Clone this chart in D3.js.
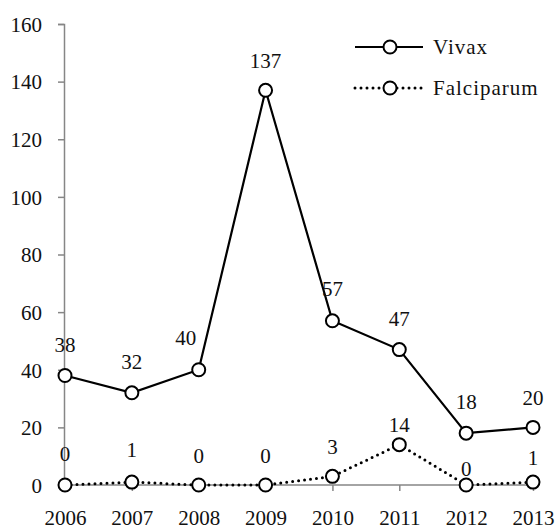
<!DOCTYPE html>
<html>
<head>
<meta charset="utf-8">
<script src="https://cdn.jsdelivr.net/npm/d3@7"></script>
<style>
  html, body { margin: 0; padding: 0; background: #fff; }
</style>
</head>
<body>
<svg id="chart" width="555" height="529"></svg>
<script>
const years = ["2006", "2007", "2008", "2009", "2010", "2011", "2012", "2013"];
const vivax = [38, 32, 40, 137, 57, 47, 18, 20];
const falciparum = [0, 1, 0, 0, 3, 14, 0, 1];
const yTicks = [0, 20, 40, 60, 80, 100, 120, 140, 160];
const seriesNames = ["Vivax", "Falciparum"];

const FONT = "'Liberation Serif', 'DejaVu Serif', serif";
const svg = d3.select("#chart");
const x = d3.scalePoint().domain(years).range([65, 533]);
const y = d3.scaleLinear().domain([0, 160]).range([485, 24]);
const axisColor = "#868686";
const fontSize = 21;

// Y axis
const yAxis = svg.append("g").attr("transform", "translate(64,0)")
  .call(d3.axisLeft(y).tickValues(yTicks).tickSize(6).tickPadding(16));
yAxis.attr("font-family", null).attr("font-size", null);
yAxis.select(".domain").attr("stroke", axisColor).attr("stroke-width", 1.5);
yAxis.selectAll(".tick line").attr("stroke", axisColor).attr("stroke-width", 1.5);
yAxis.selectAll(".tick text").attr("font-size", fontSize).style("font-family", FONT).attr("fill", "#111")
  .attr("dy", "0.35em");

// X axis
const xAxis = svg.append("g").attr("transform", "translate(0,485)")
  .call(d3.axisBottom(x).tickSize(6).tickSizeOuter(0).tickPadding(0));
xAxis.attr("font-family", null).attr("font-size", null);
xAxis.select(".domain").attr("stroke", axisColor).attr("stroke-width", 1.5).attr("d", "M64,0H534");
xAxis.selectAll(".tick line").attr("stroke", axisColor).attr("stroke-width", 1.5);
xAxis.selectAll(".tick text").attr("font-size", fontSize).style("font-family", FONT).attr("fill", "#111")
  .attr("y", 40).attr("dy", null);

const line = d3.line().x((d, i) => x(years[i])).y(d => y(d));

// Falciparum (dotted)
svg.append("path").datum(falciparum)
  .attr("d", line).attr("fill", "none").attr("stroke", "#000")
  .attr("stroke-width", 3).attr("stroke-linecap", "round").attr("stroke-dasharray", "0 6");

// Vivax (solid)
svg.append("path").datum(vivax)
  .attr("d", line).attr("fill", "none").attr("stroke", "#000").attr("stroke-width", 2.2);

function markers(data) {
  svg.append("g").selectAll("circle").data(data).join("circle")
    .attr("cx", (d, i) => x(years[i])).attr("cy", d => y(d)).attr("r", 6.5)
    .attr("fill", "#fff").attr("stroke", "#000").attr("stroke-width", 2);
}
markers(falciparum);
markers(vivax);

// Data labels (offsets avoid overlaps like the original)
const vivaxDx = [0, 0, -13, 0, 0, 0, 0, 0];
const vivaxDy = [-31, -31, -32, -30, -32, -31, -31, -30];
const falcDy = [-31, -32, -29, -29, -30, -20, -16, -24];

function labels(data, dxs, dys) {
  svg.append("g").selectAll("text").data(data).join("text")
    .attr("x", (d, i) => x(years[i]) + dxs[i]).attr("y", (d, i) => y(d) + dys[i])
    .attr("text-anchor", "middle").attr("dy", "0.35em")
    .style("font-family", FONT).attr("fill", "#111")
    .attr("font-size", fontSize).text(d => d);
}
labels(vivax, vivaxDx, vivaxDy);
labels(falciparum, [0,0,0,0,0,0,0,0], falcDy);

// Legend
const legend = svg.append("g");
const legendRows = [{name: seriesNames[0], y: 47, dotted: false}, {name: seriesNames[1], y: 88, dotted: true}];
legendRows.forEach(r => {
  const l = legend.append("line").attr("x1", 355).attr("x2", 423).attr("y1", r.y).attr("y2", r.y)
    .attr("stroke", "#000");
  if (r.dotted) l.attr("stroke-width", 3).attr("stroke-linecap", "round").attr("stroke-dasharray", "0 6");
  else l.attr("stroke-width", 2.2);
  legend.append("circle").attr("cx", 390).attr("cy", r.y).attr("r", 6.5)
    .attr("fill", "#fff").attr("stroke", "#000").attr("stroke-width", 2);
  legend.append("text").attr("x", 433).attr("y", r.y).attr("dy", "0.35em")
    .style("font-family", FONT).style("letter-spacing", "1px").attr("fill", "#111")
    .attr("font-size", fontSize).text(r.name);
});
</script>
</body>
</html>
